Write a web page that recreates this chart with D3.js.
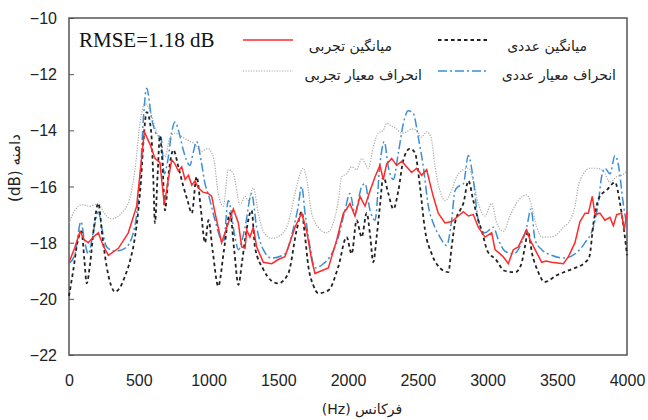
<!DOCTYPE html>
<html lang="fa">
<head>
  <meta charset="UTF-8" />
  <title>RMSE chart</title>
  <style>
    body { margin: 0; background: #fff; }
    svg { display: block; }
    .tick-label { font: 16px 'Liberation Sans', Arial, sans-serif; fill: #222; }
    .fa { font-family: 'DejaVu Sans', sans-serif; fill: #222; }
    .curve { fill: none; }
  </style>
</head>
<body>
  <svg id="chart" width="648" height="420"></svg>

  <script src="https://d3js.org/d3.v7.min.js"></script>
  <script>
    // [frequency Hz, level dB]
    const expMean = [
      [0,-18.7],[40,-18.2],[79,-17.6],[110,-17.9],[138,-18.0],[175,-17.8],[210,-17.65],[245,-18.1],
      [282,-18.45],[354,-18.2],[425,-17.65],[485,-16.7],[521,-14.95],[540,-14.05],[581,-14.5],[616,-15.0],
      [652,-15.15],[683,-16.65],[712,-15.75],[736,-15.05],[760,-15.2],[784,-15.45],[808,-15.3],[832,-15.75],
      [856,-15.6],[880,-15.95],[903,-15.8],[927,-16.05],[960,-16.2],[999,-16.25],[1023,-16.35],[1047,-16.95],
      [1094,-18.0],[1142,-17.3],[1178,-16.8],[1214,-17.3],[1238,-18.15],[1262,-18.2],[1274,-17.55],[1297,-17.8],
      [1321,-17.45],[1345,-18.15],[1393,-18.7],[1453,-18.75],[1500,-18.6],[1548,-18.5],[1590,-17.9],[1620,-17.45],
      [1668,-16.95],[1704,-17.6],[1739,-18.6],[1763,-19.1],[1810,-19.0],[1859,-18.9],[1919,-17.9],[1967,-16.95],
      [1990,-16.8],[2014,-16.6],[2050,-17.05],[2086,-16.35],[2122,-16.7],[2158,-16.15],[2194,-15.65],[2229,-15.25],
      [2253,-15.75],[2277,-15.2],[2313,-15.0],[2349,-15.25],[2385,-15.1],[2420,-15.3],[2456,-15.5],[2492,-15.35],
      [2528,-15.6],[2564,-15.4],[2588,-15.9],[2611,-16.35],[2647,-16.95],[2695,-17.3],[2743,-17.25],[2791,-17.05],
      [2827,-16.9],[2863,-17.05],[2898,-17.0],[2934,-17.45],[2982,-17.8],[3030,-17.65],[3054,-18.25],[3090,-18.4],
      [3113,-18.5],[3149,-18.75],[3185,-18.25],[3221,-18.15],[3245,-17.9],[3281,-17.55],[3305,-17.9],[3341,-18.25],
      [3389,-18.7],[3420,-18.65],[3460,-18.7],[3500,-18.72],[3544,-18.75],[3580,-18.5],[3627,-18.0],[3663,-17.25],
      [3699,-16.95],[3723,-16.95],[3751,-16.35],[3771,-17.0],[3806,-16.95],[3842,-17.2],[3878,-17.1],[3902,-17.4],
      [3926,-17.0],[3961,-16.95],[3980,-17.55],[4000,-16.9]
    ];

    const numMean = [
      [0,-19.9],[30,-19.0],[60,-18.0],[90,-17.6],[110,-18.6],[127,-19.45],[150,-18.8],[180,-17.4],[210,-16.6],
      [240,-17.8],[270,-18.85],[300,-19.5],[330,-19.75],[365,-19.6],[401,-19.2],[440,-18.6],[473,-17.8],[500,-16.7],
      [516,-15.8],[535,-14.3],[557,-13.35],[588,-14.0],[605,-15.8],[616,-17.3],[635,-15.6],[652,-14.2],[670,-15.2],
      [688,-16.85],[715,-15.5],[748,-14.7],[784,-15.3],[820,-16.0],[850,-16.5],[880,-16.95],[915,-15.65],[945,-16.8],
      [975,-18.0],[1000,-17.2],[1030,-18.3],[1070,-19.55],[1110,-18.3],[1154,-16.95],[1185,-18.3],[1214,-19.5],
      [1240,-18.7],[1262,-17.9],[1309,-16.85],[1333,-18.15],[1393,-18.95],[1450,-19.35],[1500,-19.45],[1572,-19.1],
      [1632,-17.55],[1668,-16.9],[1690,-17.7],[1716,-18.85],[1750,-19.5],[1787,-19.8],[1859,-19.7],[1931,-18.85],
      [1990,-17.8],[2026,-18.4],[2062,-17.2],[2098,-17.8],[2134,-16.95],[2160,-17.8],[2181,-18.7],[2205,-17.8],
      [2229,-16.7],[2253,-15.65],[2289,-16.25],[2325,-16.8],[2361,-16.15],[2397,-15.05],[2444,-14.65],[2480,-14.8],
      [2516,-16.0],[2552,-17.55],[2600,-18.4],[2659,-18.9],[2719,-19.05],[2743,-18.15],[2767,-17.3],[2803,-16.85],
      [2827,-16.6],[2863,-15.8],[2898,-16.5],[2934,-17.2],[2960,-17.6],[3000,-18.3],[3060,-18.6],[3120,-19.0],
      [3200,-19.05],[3240,-18.8],[3270,-18.1],[3290,-17.6],[3320,-18.4],[3360,-19.0],[3410,-19.4],[3500,-19.15],
      [3600,-18.95],[3700,-18.7],[3730,-18.5],[3760,-17.3],[3800,-16.4],[3860,-16.1],[3914,-15.85],[3950,-16.6],
      [3980,-17.6],[4000,-18.45]
    ];

    const expStd = [
      [0,-17.3],[43,-16.85],[90,-16.65],[150,-16.7],[210,-16.6],[246,-16.9],[306,-17.15],[377,-16.95],[437,-16.4],
      [473,-15.4],[509,-13.75],[545,-13.05],[581,-13.3],[616,-13.9],[664,-14.6],[688,-14.95],[724,-14.25],[760,-14.1],
      [832,-14.3],[903,-14.5],[951,-14.75],[994,-14.65],[1035,-14.95],[1070,-16.25],[1106,-16.7],[1142,-15.4],
      [1178,-15.55],[1226,-16.65],[1262,-16.35],[1285,-16.5],[1321,-16.05],[1357,-16.95],[1393,-17.6],[1453,-17.85],
      [1513,-17.75],[1572,-17.3],[1620,-16.25],[1656,-15.55],[1680,-15.35],[1704,-15.75],[1739,-16.95],[1787,-17.45],
      [1847,-17.65],[1883,-17.45],[1931,-16.5],[1955,-15.65],[1990,-15.55],[2026,-15.3],[2062,-15.4],[2098,-15.0],
      [2146,-15.35],[2181,-14.6],[2217,-14.1],[2253,-14.0],[2277,-13.75],[2313,-13.85],[2349,-13.95],[2385,-14.1],
      [2420,-14.05],[2456,-13.95],[2492,-14.0],[2523,-14.25],[2564,-14.05],[2595,-14.25],[2624,-15.3],[2659,-16.15],
      [2695,-16.5],[2743,-16.15],[2779,-15.65],[2827,-15.4],[2863,-15.35],[2898,-15.8],[2934,-16.6],[2982,-17.05],
      [3030,-16.6],[3066,-17.3],[3113,-17.6],[3161,-17.05],[3221,-16.5],[3281,-16.3],[3317,-16.7],[3353,-17.45],
      [3389,-17.8],[3436,-17.8],[3484,-17.75],[3544,-17.45],[3592,-17.2],[3627,-16.7],[3651,-16.0],[3687,-15.55],
      [3735,-15.35],[3782,-15.35],[3830,-15.45],[3878,-15.85],[3926,-15.65],[3961,-15.6],[4000,-15.45]
    ];

    const numStd = [
      [0,-18.75],[43,-18.4],[86,-17.25],[110,-17.9],[138,-18.4],[175,-17.6],[210,-16.9],[240,-17.6],[270,-18.15],
      [330,-18.3],[401,-18.2],[461,-17.65],[490,-16.8],[509,-15.8],[533,-13.6],[557,-12.5],[593,-13.6],[629,-14.15],
      [660,-14.25],[683,-15.55],[712,-14.95],[735,-14.1],[760,-13.7],[790,-14.1],[819,-14.7],[867,-15.25],[890,-14.8],
      [915,-14.4],[951,-15.2],[975,-15.9],[1000,-16.3],[1047,-17.2],[1106,-18.0],[1142,-16.5],[1190,-17.8],
      [1214,-18.25],[1262,-17.45],[1309,-16.25],[1345,-17.45],[1393,-18.25],[1453,-18.55],[1548,-18.4],[1608,-17.5],
      [1640,-16.8],[1668,-16.0],[1692,-16.95],[1728,-18.15],[1763,-18.9],[1823,-18.75],[1883,-18.4],[1931,-17.8],
      [1978,-16.85],[2014,-16.25],[2050,-16.95],[2098,-16.0],[2122,-15.9],[2158,-16.85],[2194,-17.2],[2229,-15.2],
      [2260,-14.4],[2289,-15.3],[2325,-15.75],[2361,-14.8],[2397,-13.75],[2432,-13.3],[2468,-13.4],[2504,-14.25],
      [2540,-15.3],[2576,-16.7],[2611,-17.3],[2659,-17.8],[2707,-18.1],[2743,-17.2],[2767,-16.15],[2791,-16.0],
      [2827,-15.9],[2863,-14.9],[2898,-15.75],[2934,-17.2],[2982,-17.65],[3042,-17.45],[3078,-17.9],[3125,-18.3],
      [3185,-18.4],[3245,-18.0],[3281,-17.45],[3312,-16.8],[3341,-17.9],[3389,-18.25],[3460,-18.45],[3544,-18.55],
      [3627,-18.4],[3699,-18.0],[3758,-17.45],[3794,-16.6],[3818,-15.65],[3842,-15.35],[3878,-15.55],[3914,-14.9],
      [3937,-15.2],[3973,-16.6],[4000,-17.45]
    ];

    const xTicks = [0, 500, 1000, 1500, 2000, 2500, 3000, 3500, 4000];
    const yTicks = [-10, -12, -14, -16, -18, -20, -22];

    const svg = d3.select("#chart");
    const plotL = 69, plotR = 627, plotT = 18, plotB = 355;

    const x = d3.scaleLinear().domain([0, 4000]).range([plotL, plotR]);
    const y = d3.scaleLinear().domain([-22, -10]).range([plotB, plotT]);

    const series = [
      { data: expStd,  name: "انحراف معیار تجربی", color: "#a8a8a8", width: 1.2, dash: "1.2,1.4", curve: d3.curveMonotoneX },
      { data: numStd,  name: "انحراف معیار عددی", color: "#3d8fd4", width: 1.5, dash: "9,3,2,3", curve: d3.curveMonotoneX },
      { data: numMean, name: "میانگین عددی", color: "#222", width: 1.8, dash: "3.5,3", curve: d3.curveMonotoneX },
      { data: expMean, name: "میانگین تجربی", color: "#ff2a2a", width: 1.5, dash: null, curve: d3.curveLinear }
    ];

    // axis frame
    svg.append("rect")
      .attr("x", plotL).attr("y", plotT)
      .attr("width", plotR - plotL).attr("height", plotB - plotT)
      .attr("fill", "none").attr("stroke", "#555").attr("stroke-width", 1.5);

    // y axis: inner ticks, labels on the left
    const yAxis = d3.axisLeft(y).tickValues(yTicks).tickSizeInner(-5).tickSizeOuter(0).tickPadding(12);
    const gy = svg.append("g").attr("transform", `translate(${plotL},0)`).call(yAxis);
    gy.select(".domain").remove();
    gy.selectAll("line").attr("stroke", "#555");
    gy.selectAll("text").attr("class", "tick-label").attr("dy", "0.35em");

    const xAxis = d3.axisBottom(x).tickValues(xTicks).tickFormat(d3.format("d")).tickSize(0).tickPadding(20);
    const gx = svg.append("g").attr("transform", `translate(0,${plotB})`).call(xAxis);
    gx.select(".domain").remove();
    gx.selectAll("text").attr("class", "tick-label");

    // curves
    series.forEach(s => {
      const line = d3.line().x(d => x(d[0])).y(d => y(d[1])).curve(s.curve);
      svg.append("path")
        .datum(s.data)
        .attr("class", "curve")
        .attr("d", line)
        .attr("stroke", s.color)
        .attr("stroke-width", s.width)
        .attr("stroke-dasharray", s.dash);
    });

    // titles
    svg.append("text")
      .attr("class", "fa")
      .attr("x", 362).attr("y", 414)
      .attr("text-anchor", "middle")
      .attr("direction", "rtl")
      .style("font-size", "14px")
      .text("فرکانس (Hz)");

    svg.append("text")
      .attr("class", "fa")
      .attr("transform", "translate(20,168) rotate(-90)")
      .attr("text-anchor", "middle")
      .attr("direction", "rtl")
      .style("font-size", "15px")
      .text("دامنه (dB)");

    svg.append("text")
      .attr("x", 79).attr("y", 47)
      .style("font", "21px 'Liberation Serif', 'Times New Roman', serif")
      .attr("fill", "#111")
      .text("RMSE=1.18 dB");

    // legend
    const legend = [
      { s: series[3], lx: 243, ly: 40, tx: 392, ty: 51 },
      { s: series[2], lx: 438, ly: 40, tx: 587, ty: 51 },
      { s: series[0], lx: 243, ly: 71, tx: 422, ty: 80 },
      { s: series[1], lx: 438, ly: 71, tx: 616, ty: 80 }
    ];
    legend.forEach(l => {
      svg.append("line")
        .attr("x1", l.lx).attr("x2", l.lx + 50)
        .attr("y1", l.ly).attr("y2", l.ly)
        .attr("stroke", l.s.color)
        .attr("stroke-width", l.s.width)
        .attr("stroke-dasharray", l.s.dash);
      svg.append("text")
        .attr("class", "fa")
        .attr("x", l.tx).attr("y", l.ty)
        .attr("text-anchor", "end")
        .style("font-size", "14px")
        .text(l.s.name);
    });
  </script>
</body>
</html>
